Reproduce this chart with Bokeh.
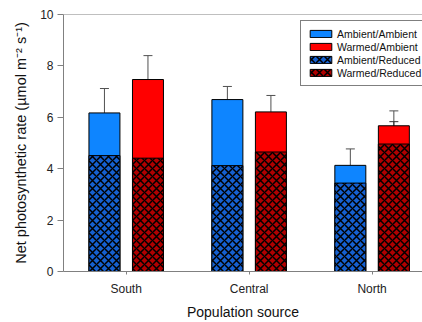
from bokeh.plotting import figure
from bokeh.models import ColumnDataSource, Whisker, TeeHead, Legend, LegendItem, FixedTicker, Span
from bokeh.embed import file_html
from bokeh.resources import INLINE

categories = ["South", "Central", "North"]
ambient_ambient = [6.17, 6.69, 4.13]
ambient_ambient_err = [0.95, 0.51, 0.64]
warmed_ambient = [7.47, 6.21, 5.67]
warmed_ambient_err = [0.93, 0.64, 0.58]
ambient_reduced = [4.51, 4.12, 3.44]
ambient_reduced_err = [0.91, 0.69, 0.41]
warmed_reduced = [4.41, 4.65, 4.96]
warmed_reduced_err = [1.24, 0.34, 0.87]
y_ticks = [0, 2, 4, 6, 8, 10]
x_title = "Population source"
y_title = "Net photosynthetic rate (\u00b5mol m\u207b\u00b2 s\u207b\u00b9)"

FONT = "Liberation Sans"
BLUE = "#0E85FF"
RED = "#FF0000"
DBLUE = "#1560D0"
DRED = "#B00000"

xpos = list(range(len(categories)))
off = 0.177
bw = 0.252

p = figure(width=422, height=322, x_range=(-0.51, 2.41), y_range=(0, 10),
           output_backend="svg", toolbar_location=None,
           min_border_left=63, min_border_right=0, min_border_top=14, min_border_bottom=50)
p.outline_line_color = None
p.xgrid.visible = False
p.ygrid.visible = False
p.add_layout(Span(location=10, dimension="width", line_color="#808080", line_width=1))

def src(vals, errs, d):
    return ColumnDataSource(dict(x=[x + d for x in xpos], top=vals,
                                 upper=[v + e for v, e in zip(vals, errs)]))

s_aa = src(ambient_ambient, ambient_ambient_err, -off)
s_wa = src(warmed_ambient, warmed_ambient_err, off)
s_ar = src(ambient_reduced, ambient_reduced_err, -off)
s_wr = src(warmed_reduced, warmed_reduced_err, off)

r_aa = p.vbar(x="x", top="top", width=bw, source=s_aa, fill_color=BLUE, line_color="black", line_width=1)
r_wa = p.vbar(x="x", top="top", width=bw, source=s_wa, fill_color=RED, line_color="black", line_width=1)
r_ar = p.vbar(x="x", top="top", width=bw, source=s_ar, fill_color=DBLUE, line_color="black", line_width=1,
              hatch_pattern="diagonal_cross", hatch_color="black", hatch_scale=8, hatch_weight=1.5)
r_wr = p.vbar(x="x", top="top", width=bw, source=s_wr, fill_color=DRED, line_color="black", line_width=1,
              hatch_pattern="diagonal_cross", hatch_color="black", hatch_scale=8, hatch_weight=1.5)

for s, col in [(s_aa, "#505050"), (s_wa, "#505050"), (s_ar, "#333333"), (s_wr, "#333333")]:
    w = Whisker(base="x", lower="top", upper="upper", source=s, line_color=col, line_width=1,
                lower_head=None, upper_head=TeeHead(size=9, line_color=col, line_width=1))
    p.add_layout(w)

legend = Legend(items=[
    LegendItem(label="Ambient/Ambient", renderers=[r_aa]),
    LegendItem(label="Warmed/Ambient", renderers=[r_wa]),
    LegendItem(label="Ambient/Reduced", renderers=[r_ar]),
    LegendItem(label="Warmed/Reduced", renderers=[r_wr]),
], location=(237, 185), padding=6, spacing=0, glyph_width=27, glyph_height=9,
   label_height=13, label_standoff=3, label_text_font=FONT, label_text_font_size="10.5px",
   label_text_color="#111111", border_line_color="black", border_line_width=1,
   background_fill_alpha=1, margin=0)
p.add_layout(legend)

for ax in (p.xaxis, p.yaxis):
    ax.axis_line_color = "#808080"
    ax.major_tick_line_color = "#808080"
    ax.minor_tick_line_color = None
    ax.major_label_text_font = FONT
    ax.major_label_text_font_size = "12px"
    ax.major_label_text_color = "#222222"
    ax.axis_label_text_font = FONT
    ax.axis_label_text_font_style = "normal"
    ax.axis_label_text_color = "#111111"

p.xaxis.ticker = FixedTicker(ticks=xpos)
p.xaxis.major_label_overrides = {i: c for i, c in enumerate(categories)}
p.xaxis.major_tick_in = 0
p.xaxis.major_tick_out = 3
p.xaxis.major_label_standoff = 7
p.xaxis.axis_label = x_title
p.xaxis.axis_label_text_font_size = "14px"
p.xaxis.axis_label_standoff = 5

p.yaxis.ticker = FixedTicker(ticks=y_ticks)
p.yaxis.major_tick_in = 0
p.yaxis.major_tick_out = 6
p.yaxis.major_label_standoff = 4
p.yaxis.axis_label = y_title
p.yaxis.axis_label_text_font_size = "14.5px"
p.yaxis.axis_label_standoff = 8

open("out.html", "w").write(file_html(p, INLINE))
